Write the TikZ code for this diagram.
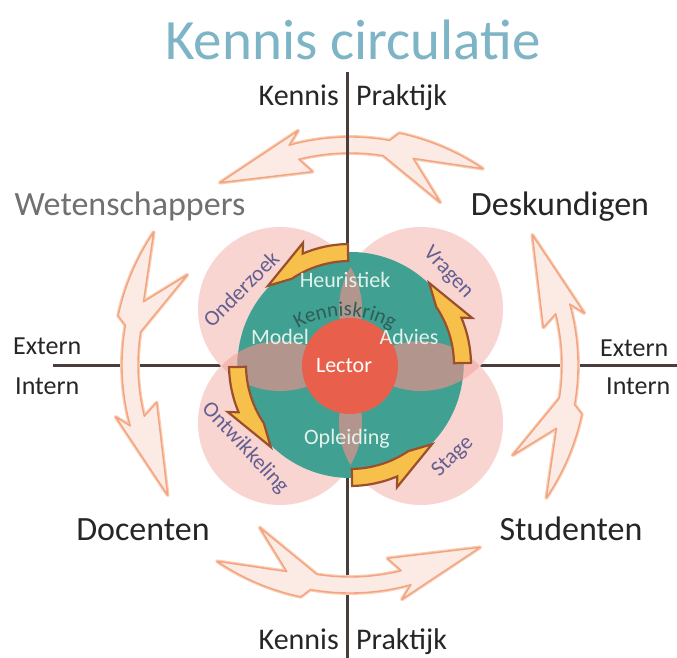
\documentclass[tikz,border=0pt]{standalone}
\usepackage{fontspec}
\setmainfont{Carlito}
\usetikzlibrary{decorations.text,calc}
\definecolor{axisc}{HTML}{4B3D3B}
\definecolor{pinkc}{RGB}{237,129,120}
\definecolor{tealc}{HTML}{40A091}
\definecolor{lensc}{HTML}{B2968E}
\definecolor{lectc}{HTML}{E8604C}
\definecolor{yelc}{HTML}{F7C04A}
\definecolor{yelo}{HTML}{9C4F2C}
\definecolor{peachl}{HTML}{F9CBB2}
\definecolor{peachd}{HTML}{F3A47E}
\definecolor{peachf}{HTML}{FCEAE4}
\definecolor{titlec}{HTML}{7DB4C6}
\definecolor{labc}{HTML}{645F91}
\definecolor{intext}{HTML}{E3F2EC}
\definecolor{kringc}{HTML}{2F5E58}
\definecolor{darkt}{HTML}{262626}
\definecolor{grayt}{HTML}{707070}
\newcommand{\kringfont}{\fontsize{21}{21}\selectfont}
\tikzset{
  axisline/.style={draw=axisc, line width=3},
  pinkdisc/.style={fill=pinkc, fill opacity=0.333},
  titlelab/.style={font=\fontsize{57}{62}\selectfont, text=titlec, inner sep=0},
  axlab/.style={font=\fontsize{30}{34}\selectfont, text=darkt, inner sep=0},
  iolab/.style={font=\fontsize{26}{30}\selectfont, text=darkt, inner sep=0},
  grouplab/.style={font=\fontsize{34}{38}\selectfont, text=darkt, inner sep=0},
  innerlab/.style={font=\fontsize{22}{24}\selectfont, text=intext, inner sep=0},
  flowlab/.style={font=\fontsize{22}{24}\selectfont, text=labc, inner sep=0},
  peacharrow/.pic={
    \path[fill=peachf, draw=peachd, line width=1.4, line join=round,
          preaction={draw=peachl, line width=3.8, line join=round}]
      (125.5:224) -- (102.5:240) -- (105.5:228)
      arc[start angle=105.5, end angle=80, radius=228]
      -- (78:237) arc[start angle=78, end angle=56, radius=238]
      -- (73:216) -- (61:186) -- (81:212)
      arc[start angle=81, end angle=104, radius=212]
      -- (101:197) -- cycle;
  },
  yelarrow/.pic={
    \path[fill=yelc, draw=yelo, line width=2.2, line join=miter]
      (91:121) arc[start angle=91, end angle=113, radius=121]
      -- (111:131) -- (136:114) -- (124:104)
      arc[start angle=124, end angle=91, radius=104] -- cycle;
  }
}
\begin{document}
\begin{tikzpicture}[x=1pt,y=1pt]
\useasboundingbox (0,0) rectangle (677,658);
\fill[white] (0,0) rectangle (677,658);
\coordinate (C) at (350,293);
% top knowledge arrow (behind axis)
\pic at (C) {peacharrow};
% axes
\coordinate (vtop) at (347,586);
\coordinate (vbot) at (347,0);
\coordinate (hleft) at (53,292);
\coordinate (hright) at (677,292);
\draw[axisline] (vtop) -- (vbot);
\draw[axisline] (hleft) -- (hright);
% other big arrows
\pic[rotate=90] at (C) {peacharrow};
\pic[rotate=180] at (C) {peacharrow};
\pic[rotate=270] at (C) {peacharrow};
% pink circles
\coordinate (TL) at (280,349);
\coordinate (TR) at (421,349);
\coordinate (BL) at (280,235);
\coordinate (BR) at (421,235);
\foreach \c in {TL,TR,BL,BR} { \fill[white] (\c) circle (82); }
\foreach \c in {TL,TR,BL,BR} { \fill[pinkdisc] (\c) circle (82); }
% teal circle
\coordinate (T) at (350.5,293);
\fill[tealc] (T) circle (113);
\begin{scope}
  \clip (T) circle (113);
  \begin{scope}\clip (TL) circle (82); \fill[lensc] (TR) circle (82);\end{scope}
  \begin{scope}\clip (TR) circle (82); \fill[lensc] (BR) circle (82);\end{scope}
  \begin{scope}\clip (BR) circle (82); \fill[lensc] (BL) circle (82);\end{scope}
  \begin{scope}\clip (BL) circle (82); \fill[lensc] (TL) circle (82);\end{scope}
\end{scope}
% lector
\fill[lectc] (350,292) circle (48);
% yellow arrows
\pic at (C) {yelarrow};
\pic[rotate=90] at (C) {yelarrow};
\pic[rotate=180] at (C) {yelarrow};
\pic[rotate=270] at (C) {yelarrow};
% texts
\node[titlelab] (title) at (353,618) {Kennis circulatie};
\node[axlab, anchor=base east] (kt) at (339,552) {Kennis};
\node[axlab, anchor=base west] (pt) at (356,552) {Praktijk};
\node[axlab, anchor=base east] (kb) at (339,8) {Kennis};
\node[axlab, anchor=base west] (pb) at (356,8) {Praktijk};
\node[iolab, anchor=base west] (el) at (13,303) {Extern};
\node[iolab, anchor=base west] (il) at (15,263) {Intern};
\node[iolab, anchor=base west] (er) at (600,301) {Extern};
\node[iolab, anchor=base west] (ir) at (606,263) {Intern};
\node[grouplab, text=grayt, anchor=base] (wet) at (130,442) {Wetenschappers};
\node[grouplab, anchor=base] (des) at (560,442) {Deskundigen};
\node[grouplab, anchor=base] (doc) at (143,117) {Docenten};
\node[grouplab, anchor=base] (stu) at (571,117) {Studenten};
\node[innerlab, anchor=base] (heu) at (345,370) {Heuristiek};
\node[innerlab, anchor=base] (mod) at (280,313) {Model};
\node[innerlab, anchor=base] (adv) at (409,313) {Advies};
\node[innerlab, text=white, anchor=base] (lec) at (344,285) {Lector};
\node[innerlab, anchor=base] (opl) at (347,213) {Opleiding};
\path[decorate, decoration={text along path, text={|\kringfont|Kenniskring}, text align=center, text color=kringc}]
  ($(345,250)+(122:92)$) arc[start angle=122, end angle=58, radius=92];
\node[flowlab, rotate=45] (ond) at (241,369) {Onderzoek};
\node[flowlab, rotate=-47] (vra) at (448,385) {Vragen};
\node[flowlab, rotate=-47] (ont) at (245,210) {Ontwikkeling};
\node[flowlab, rotate=45] (sta) at (453,201) {Stage};
\end{tikzpicture}
\end{document}
